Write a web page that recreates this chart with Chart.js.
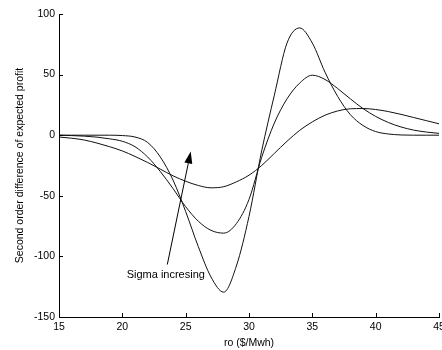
<!DOCTYPE html>
<html>
<head>
<meta charset="utf-8">
<script src="https://cdn.jsdelivr.net/npm/chart.js@4/dist/chart.umd.min.js"></script>
<style>
  html, body { margin: 0; padding: 0; background: #fff; overflow: hidden; }
  canvas { display: block; }
</style>
</head>
<body>
<canvas id="grafico" width="442" height="350"></canvas>
<script>
// price axis ($/Mwh)
const precos = [15,16,17,18,19,20,21,22,23,24,25,26,27,28,29,30,31,32,33,34,35,36,37,38,39,40,41,42,43,44,45];

// three sigma values, smallest sigma first
const sigmaBaixo = [0,0,0,0,0,-0.3,-1.5,-6,-18,-37,-63,-92,-117,-129.5,-108,-67,-13,33,76,88.5,76,52,32,17,8,3,1,0.2,0,0,0];
const sigmaMedio = [0,-0.3,-0.8,-1.6,-3,-5,-9.5,-18,-30,-44,-59,-71,-78.5,-80.8,-73,-53,-18.3,10,30,43,49.5,46,38.5,30,22,15.5,10.5,6.8,4.2,2.6,1.5];
const sigmaAlto  = [-1.5,-2.5,-4,-6.5,-9.5,-13,-17.5,-22.5,-28,-33.5,-38,-41.5,-43.4,-42.5,-38.5,-33,-25,-15,-5,4,11,16.5,20,21.8,22,21.2,19.5,17.2,14.6,12,9.4];

const ticksX = [15,20,25,30,35,40,45];
const ticksY = [-150,-100,-50,0,50,100];

// annotation (data units)
const seta = { de: [23.55, -106.7], ate: [25.4, -13.4] };
const rotulo = { texto: "Sigma incresing", x: 20.34, y: -115 };

const fonte = "'Liberation Sans', Arial, sans-serif";

function serie(valores) {
  return {
    data: precos.map((p, i) => ({ x: p, y: valores[i] })),
    borderColor: "#111",
    borderWidth: 1,
    pointRadius: 0,
    cubicInterpolationMode: "monotone",
    fill: false
  };
}

// inward ticks + arrow + text
const extras = {
  id: "extras",
  afterDraw(chart) {
    const ctx = chart.ctx;
    const sx = chart.scales.x, sy = chart.scales.y;
    const area = chart.chartArea;
    ctx.save();
    ctx.strokeStyle = "#000";
    ctx.lineWidth = 1;
    ticksX.forEach(v => {
      const px = Math.round(sx.getPixelForValue(v)) + 0.5;
      ctx.beginPath();
      ctx.moveTo(px, area.bottom);
      ctx.lineTo(px, area.bottom - 4);
      ctx.stroke();
    });
    ticksY.forEach(v => {
      const py = Math.round(sy.getPixelForValue(v)) + 0.5;
      ctx.beginPath();
      ctx.moveTo(area.left, py);
      ctx.lineTo(area.left + 4, py);
      ctx.stroke();
    });

    // arrow
    const x1 = sx.getPixelForValue(seta.de[0]), y1 = sy.getPixelForValue(seta.de[1]);
    const x2 = sx.getPixelForValue(seta.ate[0]), y2 = sy.getPixelForValue(seta.ate[1]);
    const ang = Math.atan2(y2 - y1, x2 - x1);
    const comp = 12, larg = 4;
    const bx = x2 - comp * Math.cos(ang), by = y2 - comp * Math.sin(ang);
    ctx.beginPath();
    ctx.moveTo(x1, y1);
    ctx.lineTo(bx, by);
    ctx.stroke();
    ctx.fillStyle = "#000";
    ctx.beginPath();
    ctx.moveTo(x2, y2);
    ctx.lineTo(bx + larg * Math.sin(ang), by - larg * Math.cos(ang));
    ctx.lineTo(bx - larg * Math.sin(ang), by + larg * Math.cos(ang));
    ctx.closePath();
    ctx.fill();

    // label
    ctx.font = "11px " + fonte;
    ctx.fillStyle = "#000";
    ctx.textAlign = "left";
    ctx.textBaseline = "middle";
    ctx.fillText(rotulo.texto, sx.getPixelForValue(rotulo.x), sy.getPixelForValue(rotulo.y));
    ctx.restore();
  }
};

window.onload = function () {
  const ctx = document.getElementById("grafico").getContext("2d");
  new Chart(ctx, {
    type: "line",
    data: { datasets: [serie(sigmaBaixo), serie(sigmaMedio), serie(sigmaAlto)] },
    options: {
      responsive: false,
      animation: false,
      layout: { padding: { top: 14, right: 3, left: 0, bottom: 0 } },
      plugins: { legend: { display: false }, tooltip: { enabled: false } },
      scales: {
        x: {
          type: "linear",
          min: 15, max: 45,
          afterBuildTicks: s => { s.ticks = ticksX.map(v => ({ value: v })); },
          afterFit: s => { s.height = 33; s.paddingLeft = 0; s.paddingRight = 0; },
          grid: { display: false, drawTicks: false },
          border: { display: true, color: "#000", width: 1 },
          ticks: { color: "#000", padding: 4, maxRotation: 0, font: { family: fonte, size: 10.5 } },
          title: { display: true, text: "ro ($/Mwh)", color: "#000", padding: { top: 0, bottom: 1 }, font: { family: fonte, size: 10.5 } }
        },
        y: {
          min: -150, max: 100,
          afterBuildTicks: s => { s.ticks = ticksY.map(v => ({ value: v })); },
          afterFit: s => { s.width = 59; s.paddingTop = 0; s.paddingBottom = 0; },
          grid: { display: false, drawTicks: false },
          border: { display: true, color: "#000", width: 1 },
          ticks: { color: "#000", padding: 4, font: { family: fonte, size: 10.5 } },
          title: { display: true, text: "Second order difference of expected profit", color: "#000", padding: { top: 14, bottom: 0 }, font: { family: fonte, size: 10.5 } }
        }
      }
    },
    plugins: [extras]
  });
};
</script>
</body>
</html>
